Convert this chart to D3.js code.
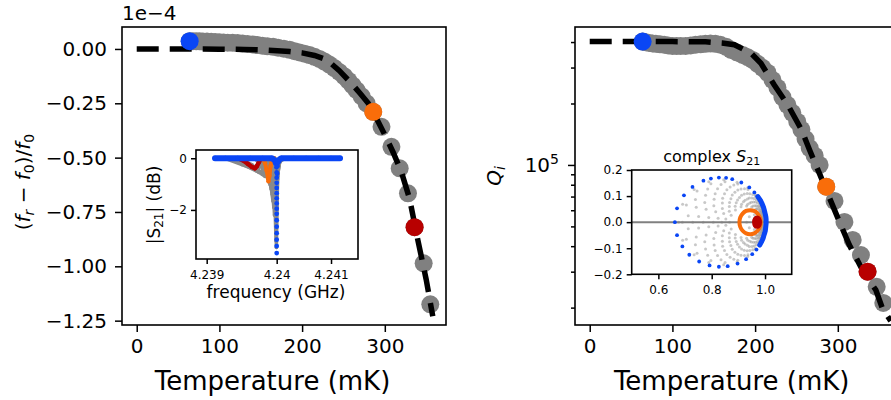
<!DOCTYPE html>
<html>
<head>
<meta charset="utf-8">
<script src="https://cdn.jsdelivr.net/npm/d3@7"></script>
<style>
  body { margin: 0; background: #fff; }
  svg { display: block; font-family: "DejaVu Sans", sans-serif; }
</style>
</head>
<body>
<div id="chart"></div>
<script>
// ---- data ----
// temperature sweep (mK)
const temps = [64, 68, 72, 76, 80, 85, 90, 95, 100, 105, 110, 116, 122, 128, 134, 140, 146, 152, 158, 165,
  171, 178, 185, 191, 197, 203, 209, 215, 221, 227, 233, 239, 245, 251, 256, 261, 266, 272, 278, 286,
  296, 308, 318, 328, 336, 347, 355];
// (fr - f0)/f0, units of 1e-4
const shiftVals = [0.036, 0.036, 0.035, 0.035, 0.034, 0.034, 0.033, 0.032, 0.031, 0.030, 0.029, 0.028, 0.027, 0.025, 0.023, 0.021, 0.018, 0.015, 0.012, 0.010,
  0.006, 0.001, -0.004, -0.010, -0.016, -0.022, -0.028, -0.036, -0.046, -0.058, -0.072, -0.088, -0.106, -0.126, -0.146, -0.168, -0.190, -0.218, -0.250, -0.289,
  -0.358, -0.450, -0.549, -0.664, -0.820, -0.986, -1.175];
// internal quality factor
const qiVals = [4.02e5, 3.99e5, 3.96e5, 3.94e5, 3.92e5, 3.90e5, 3.88e5, 3.85e5, 3.83e5, 3.83e5, 3.83e5, 3.83e5, 3.85e5, 3.88e5, 3.90e5, 3.92e5, 3.94e5, 3.92e5, 3.88e5, 3.79e5,
  3.66e5, 3.56e5, 3.46e5, 3.37e5, 3.27e5, 3.13e5, 2.99e5, 2.83e5, 2.61e5, 2.39e5, 2.15e5, 1.97e5, 1.80e5, 1.63e5, 1.49e5, 1.34e5, 1.21e5, 1.11e5, 1.00e5, 7.83e4,
  6.66e4, 5.26e4, 4.29e4, 3.62e4, 3.00e4, 2.53e4, 2.11e4];

// fit curves
const fitTempsShift = [0, 50, 100, 130, 150, 170, 185, 200, 215, 230, 245, 260, 270, 280, 290, 300, 310, 320, 330, 340, 350, 358];
const fitShift = [0, 0, -0.001, -0.002, -0.004, -0.008, -0.012, -0.018, -0.030, -0.050, -0.100, -0.160, -0.204, -0.250, -0.320, -0.395, -0.475, -0.565, -0.690, -0.880, -1.060, -1.230];
const fitTempsQ = [0, 50, 100, 140, 160, 175, 195, 207, 223, 239.5, 256, 266, 278, 290, 302, 314, 332, 346, 354, 364];
const fitQ = [4.02e5, 4.02e5, 4.02e5, 4.01e5, 3.96e5, 3.88e5, 3.53e5, 3.15e5, 2.47e5, 1.97e5, 1.49e5, 1.18e5, 9.04e4, 6.89e4, 5.26e4, 4.05e4, 2.94e4, 2.44e4, 1.98e4, 1.72e4];

const highlightTemps = [64, 286, 336];
const tempTicks = [0, 100, 200, 300];
const shiftTicks = [0, -0.25, -0.5, -0.75, -1, -1.25];
const qMajorTicks = [1e5];
const qMinorTicks = [2e4, 3e4, 4e4, 5e4, 6e4, 7e4, 8e4, 9e4, 2e5, 3e5, 4e5];

// inset 1: |S21| (dB) vs frequency (GHz)
const freqTicks = [4.239, 4.240126, 4.241];
const freqTickLabels = ["4.239", "4.24", "4.241"];
const dbTicks = [0, -2];
const greySweeps = [
  [[4.240019, 0], [4.240083, -0.25], [4.240104, -0.9], [4.240115, -2.0], [4.240121, -3.45], [4.240130, -2.0], [4.240141, -0.8], [4.240163, -0.2], [4.240228, 0]],
  [[4.240002, 0], [4.240075, -0.3], [4.240099, -0.9], [4.240110, -1.9], [4.240117, -3.2], [4.240126, -1.9], [4.240139, -0.7], [4.240171, -0.15], [4.240236, 0]],
  [[4.239986, 0], [4.240059, -0.35], [4.240088, -1.1], [4.240102, -2.1], [4.240112, -2.9], [4.240123, -1.8], [4.240139, -0.6], [4.240179, -0.1], [4.240244, 0]],
  [[4.239938, 0], [4.240019, -0.35], [4.240059, -1.0], [4.240080, -1.7], [4.240091, -2.2], [4.240107, -1.5], [4.240131, -0.5], [4.240179, -0.1], [4.240260, 0]],
  [[4.239906, 0], [4.240002, -0.4], [4.240051, -1.1], [4.240080, -1.9], [4.240099, -1.3], [4.240131, -0.45], [4.240179, -0.1], [4.240260, 0]],
  [[4.239890, 0], [4.239986, -0.4], [4.240035, -1.1], [4.240067, -1.65], [4.240091, -1.1], [4.240123, -0.4], [4.240179, -0.1], [4.240276, 0]],
  [[4.239858, 0], [4.239962, -0.38], [4.240027, -1.0], [4.240056, -1.4], [4.240083, -0.95], [4.240123, -0.35], [4.240195, 0]],
  [[4.239825, 0], [4.239938, -0.35], [4.240010, -0.9], [4.240043, -1.2], [4.240075, -0.8], [4.240115, -0.3], [4.240195, 0]],
  [[4.239793, 0], [4.239914, -0.35], [4.239994, -0.8], [4.240027, -1.05], [4.240059, -0.7], [4.240107, -0.25], [4.240179, 0]],
  [[4.239777, 0], [4.239890, -0.35], [4.239978, -0.75], [4.240010, -0.95], [4.240043, -0.6], [4.240091, -0.2], [4.240179, 0]],
  [[4.239536, 0], [4.239729, -0.25], [4.239882, -0.6], [4.239938, -0.7], [4.239978, -0.4], [4.240027, -0.1], [4.240099, 0]],
  [[4.239407, 0], [4.239665, -0.27], [4.239842, -0.55], [4.239906, -0.62], [4.239954, -0.35], [4.240002, -0.08], [4.240067, 0]],
  [[4.239343, 0], [4.239616, -0.28], [4.239809, -0.5], [4.239874, -0.55], [4.239922, -0.3], [4.239970, -0.05], [4.240051, 0]],
  [[4.239294, 0], [4.239568, -0.25], [4.239761, -0.42], [4.239825, -0.45], [4.239874, -0.2], [4.239922, 0]]
];
const redSweep = [[4.239375, 0], [4.239504, 0], [4.239600, -0.10], [4.239665, -0.22], [4.239729, -0.34], [4.239777, -0.39],
  [4.239809, -0.30], [4.239842, -0.14], [4.239874, -0.02], [4.239922, 0]];
const orangeSweep = [[4.239825, 0], [4.239890, 0], [4.239938, -0.18], [4.239962, -0.45], [4.239986, -0.76], [4.239994, -0.89],
  [4.240010, -0.68], [4.240027, -0.30], [4.240051, -0.07], [4.240083, 0]];
const blueSweep = [[4.239134, 0], [4.2393, 0], [4.2395, 0], [4.2397, 0], [4.2399, 0], [4.24005, 0], [4.240091, -0.07], [4.240112, -0.18],
  [4.240122, -0.35], [4.240126, -0.55], [4.240126, -0.75], [4.240126, -0.95], [4.240126, -1.15], [4.240126, -1.35], [4.240126, -1.55],
  [4.240126, -1.75], [4.240126, -1.95], [4.240126, -2.15], [4.240126, -2.4], [4.240126, -2.65], [4.240126, -2.9], [4.240126, -3.15],
  [4.240126, -3.4], [4.240126, -3.67], [4.240134, -0.6], [4.24014, -0.3], [4.240147, -0.14], [4.24017, -0.05], [4.2402, 0],
  [4.2404, 0], [4.2406, 0], [4.2408, 0], [4.241, 0], [4.241145, 0]];

// inset 2: complex S21 (Re, Im)
const s21XTicks = [0.6, 0.8, 1.0];
const s21YTicks = [-0.2, -0.1, 0, 0.1, 0.2];
const greyS21 = [
  [[0.676, 0], [0.691, 0.069], [0.734, 0.125], [0.789, 0.155], [0.845, 0.163], [0.895, 0.153], [0.935, 0.132], [0.964, 0.105], [0.983, 0.076], [0.994, 0.050], [1.000, 0.025], [1.002, 0],
   [1.000, -0.025], [0.994, -0.050], [0.983, -0.076], [0.964, -0.105], [0.935, -0.132], [0.895, -0.153], [0.845, -0.163], [0.789, -0.155], [0.734, -0.125], [0.691, -0.069]],
  [[0.690, 0], [0.705, 0.066], [0.745, 0.119], [0.797, 0.147], [0.850, 0.155], [0.898, 0.146], [0.936, 0.125], [0.964, 0.100], [0.982, 0.073], [0.992, 0.048], [0.998, 0.024], [1.000, 0],
   [0.998, -0.024], [0.992, -0.048], [0.982, -0.073], [0.964, -0.100], [0.936, -0.125], [0.898, -0.146], [0.850, -0.155], [0.797, -0.147], [0.745, -0.119], [0.705, -0.066]],
  [[0.712, 0.025], [0.739, 0.087], [0.785, 0.127], [0.835, 0.144], [0.883, 0.142], [0.923, 0.128], [0.954, 0.106], [0.975, 0.081], [0.989, 0.057], [0.996, 0.033], [1.000, 0.010],
   [1.000, -0.010], [0.996, -0.033], [0.989, -0.057], [0.975, -0.081], [0.954, -0.106], [0.923, -0.128], [0.883, -0.142], [0.835, -0.144], [0.785, -0.127], [0.739, -0.087], [0.712, -0.025]],
  [[0.729, 0], [0.742, 0.057], [0.777, 0.103], [0.822, 0.128], [0.869, 0.135], [0.910, 0.127], [0.943, 0.109], [0.967, 0.087], [0.983, 0.063], [0.992, 0.042], [0.997, 0.021], [0.999, 0],
   [0.997, -0.021], [0.992, -0.042], [0.983, -0.063], [0.967, -0.087], [0.943, -0.109], [0.910, -0.127], [0.869, -0.135], [0.822, -0.128], [0.777, -0.103], [0.742, -0.057]],
  [[0.751, 0.022], [0.774, 0.075], [0.813, 0.109], [0.857, 0.124], [0.898, 0.123], [0.933, 0.110], [0.959, 0.091], [0.978, 0.070], [0.989, 0.049], [0.996, 0.028], [0.999, 0.009],
   [0.999, -0.009], [0.996, -0.028], [0.989, -0.049], [0.978, -0.070], [0.959, -0.091], [0.933, -0.110], [0.898, -0.123], [0.857, -0.124], [0.813, -0.109], [0.774, -0.075], [0.751, -0.022]],
  [[0.768, 0], [0.779, 0.049], [0.809, 0.088], [0.848, 0.109], [0.887, 0.115], [0.922, 0.108], [0.951, 0.093], [0.971, 0.074], [0.985, 0.054], [0.992, 0.036], [0.997, 0.018], [0.998, 0],
   [0.997, -0.018], [0.992, -0.036], [0.985, -0.054], [0.971, -0.074], [0.951, -0.093], [0.922, -0.108], [0.887, -0.115], [0.848, -0.109], [0.809, -0.088], [0.779, -0.049]],
  [[0.789, 0.018], [0.808, 0.063], [0.841, 0.092], [0.877, 0.104], [0.912, 0.103], [0.941, 0.093], [0.964, 0.077], [0.979, 0.059], [0.989, 0.041], [0.994, 0.024], [0.997, 0.007],
   [0.997, -0.007], [0.994, -0.024], [0.989, -0.041], [0.979, -0.059], [0.964, -0.077], [0.941, -0.093], [0.912, -0.103], [0.877, -0.104], [0.841, -0.092], [0.808, -0.063], [0.789, -0.018]],
  [[0.806, 0], [0.815, 0.040], [0.840, 0.073], [0.872, 0.090], [0.904, 0.095], [0.934, 0.089], [0.957, 0.077], [0.974, 0.061], [0.985, 0.045], [0.991, 0.029], [0.995, 0.015], [0.996, 0],
   [0.995, -0.015], [0.991, -0.029], [0.985, -0.045], [0.974, -0.061], [0.957, -0.077], [0.934, -0.089], [0.904, -0.095], [0.872, -0.090], [0.840, -0.073], [0.815, -0.040]],
  [[0.824, 0.015], [0.840, 0.052], [0.867, 0.075], [0.897, 0.085], [0.925, 0.084], [0.949, 0.076], [0.968, 0.063], [0.980, 0.048], [0.988, 0.034], [0.993, 0.019], [0.995, 0.006],
   [0.995, -0.006], [0.993, -0.019], [0.988, -0.034], [0.980, -0.048], [0.968, -0.063], [0.949, -0.076], [0.925, -0.084], [0.897, -0.085], [0.867, -0.075], [0.840, -0.052], [0.824, -0.015]],
  [[0.838, 0], [0.845, 0.033], [0.866, 0.060], [0.892, 0.074], [0.919, 0.078], [0.943, 0.073], [0.962, 0.063], [0.976, 0.050], [0.985, 0.037], [0.990, 0.024], [0.993, 0.012], [0.994, 0],
   [0.993, -0.012], [0.990, -0.024], [0.985, -0.037], [0.976, -0.050], [0.962, -0.063], [0.943, -0.073], [0.919, -0.078], [0.892, -0.074], [0.866, -0.060], [0.845, -0.033]],
  [[0.853, 0.012], [0.866, 0.042], [0.888, 0.061], [0.912, 0.069], [0.935, 0.069], [0.955, 0.062], [0.970, 0.051], [0.980, 0.039], [0.987, 0.027], [0.990, 0.016], [0.992, 0.005],
   [0.992, -0.005], [0.990, -0.016], [0.987, -0.027], [0.980, -0.039], [0.970, -0.051], [0.955, -0.062], [0.935, -0.069], [0.912, -0.069], [0.888, -0.061], [0.866, -0.042], [0.853, -0.012]],
  [[0.867, 0], [0.873, 0.026], [0.889, 0.047], [0.910, 0.059], [0.931, 0.062], [0.950, 0.058], [0.966, 0.050], [0.977, 0.040], [0.984, 0.029], [0.988, 0.019], [0.990, 0.010], [0.991, 0],
   [0.990, -0.010], [0.988, -0.019], [0.984, -0.029], [0.977, -0.040], [0.966, -0.050], [0.950, -0.058], [0.931, -0.062], [0.910, -0.059], [0.889, -0.047], [0.873, -0.026]],
  [[0.931, 0], [0.941, 0.021], [0.960, 0.028], [0.980, 0.018], [0.987, 0], [0.980, -0.018], [0.960, -0.028], [0.941, -0.021]]
];
const blueS21 = [[0.662, 0.000], [0.670, 0.053], [0.696, 0.103], [0.728, 0.135], [0.769, 0.159], [0.797, 0.167], [0.827, 0.171], [0.854, 0.170],
  [0.877, 0.165], [0.911, 0.152], [0.941, 0.133], [0.960, 0.114], [0.973, 0.098], [0.983, 0.083], [0.989, 0.070], [0.994, 0.058], [0.997, 0.047],
  [0.999, 0.038], [1.001, 0.030], [1.003, 0.021], [1.004, 0.012], [1.004, 0.003], [1.004, -0.006], [1.003, -0.015], [1.002, -0.024], [1.001, -0.033],
  [0.999, -0.041], [0.996, -0.050], [0.993, -0.061], [0.987, -0.075], [0.980, -0.088], [0.968, -0.105], [0.952, -0.123], [0.929, -0.142],
  [0.897, -0.159], [0.860, -0.169], [0.827, -0.171], [0.792, -0.166], [0.753, -0.151], [0.716, -0.125], [0.690, -0.093], [0.670, -0.050]];
const orangeS21 = [[0.984, 0], [0.981, 0.018], [0.972, 0.033], [0.959, 0.043], [0.944, 0.046], [0.929, 0.043], [0.916, 0.033], [0.907, 0.018],
  [0.904, 0], [0.907, -0.018], [0.916, -0.033], [0.929, -0.043], [0.944, -0.046], [0.959, -0.043], [0.972, -0.033], [0.981, -0.018]];
const redS21 = [[0.983, 0], [0.979, 0.015], [0.970, 0.020], [0.961, 0.015], [0.957, 0], [0.961, -0.015], [0.970, -0.020], [0.979, -0.015]];

// ---- drawing ----
const grey = "#808080", blue = "#0a46f5", orange = "#f96d0a", red = "#b80000";
const font = "DejaVu Sans";

const svg = d3.select("#chart").append("svg")
    .attr("width", 891)
    .attr("height", 400);

function drawAxis(axis, tx, ty, fs) {
    let g = svg.append("g")
        .attr("transform", "translate(" + tx + "," + ty + ")")
        .call(axis);
    g.select(".domain").remove();
    g.selectAll(".tick line").attr("stroke", "#000").attr("stroke-width", 1.5);
    g.selectAll(".tick text").attr("font-size", fs).attr("fill", "#000").attr("font-family", font);
    return g;
}

function frame(x0, y0, x1, y1) {
    svg.append("rect")
        .attr("x", x0).attr("y", y0)
        .attr("width", x1 - x0).attr("height", y1 - y0)
        .attr("fill", "none").attr("stroke", "#000").attr("stroke-width", 1.6);
}

function clip(id, x0, y0, x1, y1) {
    svg.append("clipPath").attr("id", id).append("rect")
        .attr("x", x0).attr("y", y0).attr("width", x1 - x0).attr("height", y1 - y0);
}

// main panels scales
const xL = d3.scaleLinear().domain([-17.8, 374]).range([122, 446]);
const yL = d3.scaleLinear().domain([-1.27, 0.101]).range([325, 27]);
const xR = d3.scaleLinear().domain([-17.8, 374]).range([575, 899]);
const yR = d3.scaleLog().domain([1.644e4, 4.74e5]).range([325, 27]);

clip("clipL", 122, 27, 446, 325);
clip("clipR", 575, 27, 899, 325);

const shiftPts = temps.map((t, i) => ({T: t, v: shiftVals[i]}));
const qPts = temps.map((t, i) => ({T: t, v: qiVals[i]}));
const hlColors = [blue, orange, red];

function mainPanel(pts, fitT, fitV, x, y, clipId) {
    let g = svg.append("g").attr("clip-path", "url(#" + clipId + ")");
    g.selectAll("circle.pt")
        .data(pts)
        .enter()
        .append("circle")
        .attr("class", "pt")
        .attr("cx", d => x(d.T))
        .attr("cy", d => y(d.v))
        .attr("r", 9)
        .attr("fill", grey);

    let fitLine = d3.line()
        .x(d => x(d[0]))
        .y(d => y(d[1]));
    g.append("path")
        .attr("d", fitLine(fitT.map((t, i) => [t, fitV[i]])))
        .attr("fill", "none")
        .attr("stroke", "#000")
        .attr("stroke-width", 5.5)
        .attr("stroke-dasharray", "22,11");

    highlightTemps.forEach((t, k) => {
        let d = pts[temps.indexOf(t)];
        g.append("circle")
            .attr("cx", x(d.T))
            .attr("cy", y(d.v))
            .attr("r", 9)
            .attr("fill", hlColors[k]);
    });
}

mainPanel(shiftPts, fitTempsShift, fitShift, xL, yL, "clipL");
mainPanel(qPts, fitTempsQ, fitQ, xR, yR, "clipR");

// left main axes
drawAxis(d3.axisBottom(xL).tickValues(tempTicks).tickSize(7).tickPadding(7), 0, 325, 20);
drawAxis(d3.axisLeft(yL).tickValues(shiftTicks).tickFormat(d3.format(".2f")).tickSize(7).tickPadding(8), 122, 0, 20);
frame(122, 27, 446, 325);

// right main axes (log)
drawAxis(d3.axisBottom(xR).tickValues(tempTicks).tickSize(7).tickPadding(7), 0, 325, 20);
drawAxis(d3.axisLeft(yR).tickValues(qMajorTicks).tickFormat(() => "").tickSize(7), 575, 0, 20);
drawAxis(d3.axisLeft(yR).tickValues(qMinorTicks).tickFormat(() => "").tickSize(4), 575, 0, 20);
frame(575, 27, 899, 325);

qMajorTicks.forEach(q => {
    let t = svg.append("text")
        .attr("x", 559)
        .attr("y", yR(q) + 7)
        .attr("text-anchor", "end")
        .attr("font-size", 20)
        .attr("font-family", font);
    t.append("tspan").text("10");
    t.append("tspan").attr("dy", -8).attr("font-size", 14).text("5");
});

// offset text and labels
svg.append("text")
    .attr("x", 122).attr("y", 20)
    .attr("font-size", 20).attr("font-family", font)
    .text("1e\u22124");

[272.5, 731.7].forEach(cx => {
    svg.append("text")
        .attr("x", cx).attr("y", 390)
        .attr("text-anchor", "middle")
        .attr("font-size", 26).attr("font-family", font)
        .text("Temperature (mK)");
});

let yLab = svg.append("text")
    .attr("transform", "translate(30,182) rotate(-90)")
    .attr("text-anchor", "middle")
    .attr("font-size", 20).attr("font-family", font);
yLab.append("tspan").text("(");
yLab.append("tspan").attr("font-style", "italic").text("f");
yLab.append("tspan").attr("font-style", "italic").attr("font-size", 14).attr("dy", 4).text("r");
yLab.append("tspan").attr("dy", -4).text(" \u2212 ");
yLab.append("tspan").attr("font-style", "italic").text("f");
yLab.append("tspan").attr("font-size", 14).attr("dy", 4).text("0");
yLab.append("tspan").attr("dy", -4).text(")/");
yLab.append("tspan").attr("font-style", "italic").text("f");
yLab.append("tspan").attr("font-size", 14).attr("dy", 4).text("0");

let qLab = svg.append("text")
    .attr("transform", "translate(501,176) rotate(-90)")
    .attr("text-anchor", "middle")
    .attr("font-size", 20).attr("font-family", font);
qLab.append("tspan").attr("font-style", "italic").text("Q");
qLab.append("tspan").attr("font-style", "italic").attr("font-size", 14).attr("dy", 4).text("i");

// ---- inset 1: |S21| ----
const xF = d3.scaleLinear().domain([4.238828, 4.241434]).range([196, 358]);
const yDB = d3.scaleLinear().domain([-3.9, 0.32]).range([259, 150]);
svg.append("rect").attr("x", 196).attr("y", 150).attr("width", 162).attr("height", 109).attr("fill", "#fff");
clip("clipIn1", 196, 150, 358, 259);
let in1 = svg.append("g").attr("clip-path", "url(#clipIn1)");

function sweep(g, data, color, lw, r, xs, ys, defined) {
    let line = d3.line().x(d => xs(d[0])).y(d => ys(d[1]));
    if (defined) line.defined(defined);
    g.append("path")
        .attr("d", line(data))
        .attr("fill", "none")
        .attr("stroke", color)
        .attr("stroke-width", lw)
        .attr("stroke-linejoin", "round")
        .attr("stroke-linecap", "round");
    g.selectAll(null)
        .data(data)
        .enter()
        .append("circle")
        .attr("cx", d => xs(d[0]))
        .attr("cy", d => ys(d[1]))
        .attr("r", r)
        .attr("fill", color);
}

greySweeps.forEach(s => sweep(in1, s, "#8a8a8a", 3.5, 1.8, xF, yDB));
sweep(in1, redSweep, red, 4.5, 2.2, xF, yDB);
sweep(in1, orangeSweep, orange, 4, 2.2, xF, yDB);
sweep(in1, blueSweep, blue, 6, 2.4, xF, yDB, d => d[1] > -0.2);

drawAxis(d3.axisBottom(xF).tickValues(freqTicks).tickFormat((d, i) => freqTickLabels[i]).tickSize(5).tickPadding(6), 0, 259, 12);
drawAxis(d3.axisLeft(yDB).tickValues(dbTicks).tickFormat(d3.format("d")).tickSize(5).tickPadding(4), 196, 0, 12);
frame(196, 150, 358, 259);

svg.append("text")
    .attr("x", 276).attr("y", 298)
    .attr("text-anchor", "middle")
    .attr("font-size", 17).attr("font-family", font)
    .text("frequency (GHz)");

let sLab = svg.append("text")
    .attr("transform", "translate(159.5,205) rotate(-90)")
    .attr("text-anchor", "middle")
    .attr("font-size", 17).attr("font-family", font);
sLab.append("tspan").text("|S");
sLab.append("tspan").attr("font-size", 12).attr("dy", 3).text("21");
sLab.append("tspan").attr("dy", -3).text("| (dB)");

// ---- inset 2: complex S21 ----
const xS = d3.scaleLinear().domain([0.5, 1.1]).range([631.7, 791.7]);
const yS = d3.scaleLinear().domain([-0.2, 0.2]).range([274.3, 170]);
svg.append("rect").attr("x", 631.7).attr("y", 170).attr("width", 160).attr("height", 104.3).attr("fill", "#fff");
clip("clipIn2", 631.7, 170, 791.7, 274.3);
let in2 = svg.append("g").attr("clip-path", "url(#clipIn2)");

greyS21.forEach(c => {
    in2.selectAll(null)
        .data(c)
        .enter()
        .append("circle")
        .attr("cx", d => xS(d[0]))
        .attr("cy", d => yS(d[1]))
        .attr("r", 1.5)
        .attr("fill", "#9a9a9a")
        .attr("fill-opacity", 0.55);
});

in2.append("line")
    .attr("x1", xS(0.5)).attr("x2", xS(1.1))
    .attr("y1", yS(0)).attr("y2", yS(0))
    .attr("stroke", grey).attr("stroke-width", 2);

// dense off-resonance arc of the blue sweep
in2.append("path")
    .attr("d", d3.line().defined(d => d[0] > 0.97).x(d => xS(d[0])).y(d => yS(d[1]))(blueS21))
    .attr("fill", "none").attr("stroke", blue).attr("stroke-width", 5).attr("stroke-linecap", "round");
in2.selectAll(null)
    .data(blueS21)
    .enter()
    .append("circle")
    .attr("cx", d => xS(d[0]))
    .attr("cy", d => yS(d[1]))
    .attr("r", 1.9)
    .attr("fill", blue);

in2.append("path")
    .attr("d", d3.line().curve(d3.curveCardinalClosed).x(d => xS(d[0])).y(d => yS(d[1]))(orangeS21))
    .attr("fill", "none").attr("stroke", orange).attr("stroke-width", 4);

in2.append("path")
    .attr("d", d3.line().curve(d3.curveCardinalClosed).x(d => xS(d[0])).y(d => yS(d[1]))(redS21))
    .attr("fill", red).attr("stroke", red).attr("stroke-width", 3);

drawAxis(d3.axisBottom(xS).tickValues(s21XTicks).tickFormat(d3.format(".1f")).tickSize(5).tickPadding(6), 0, 274.3, 12);
drawAxis(d3.axisLeft(yS).tickValues(s21YTicks).tickFormat(d3.format(".1f")).tickSize(5).tickPadding(4), 631.7, 0, 12);
frame(631.7, 170, 791.7, 274.3);

let title = svg.append("text")
    .attr("x", 711.7).attr("y", 161.7)
    .attr("text-anchor", "middle")
    .attr("font-size", 16).attr("font-family", font);
title.append("tspan").text("complex ");
title.append("tspan").attr("font-style", "italic").text("S");
title.append("tspan").attr("font-size", 11).attr("dy", 3).text("21");
</script>
</body>
</html>
